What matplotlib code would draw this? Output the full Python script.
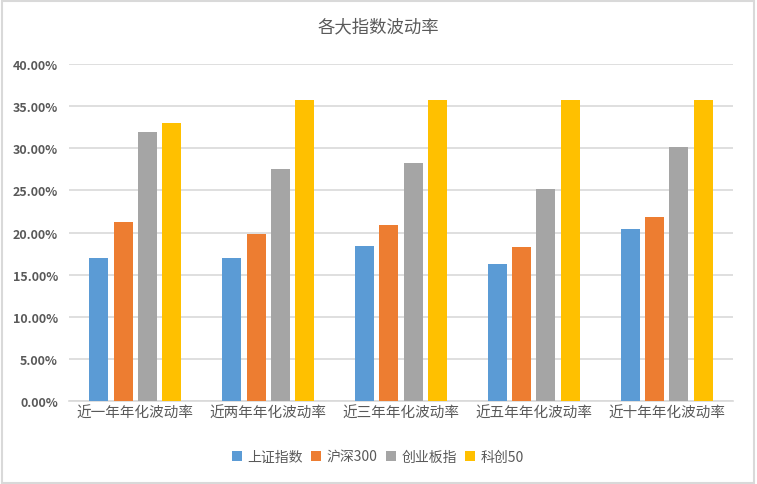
import numpy as np
import matplotlib.pyplot as plt
from matplotlib.ticker import FuncFormatter
from matplotlib.patches import Rectangle

plt.rcParams['font.family'] = ['Noto Sans CJK SC', 'DejaVu Sans']

categories = ['近一年年化波动率', '近两年年化波动率', '近三年年化波动率', '近五年年化波动率', '近十年年化波动率']
series_names = ['上证指数', '沪深300', '创业板指', '科创50']
sh_index = [17.0, 17.0, 18.4, 16.3, 20.4]
hs300 = [21.2, 19.8, 20.9, 18.3, 21.8]
cyb = [31.9, 27.5, 28.2, 25.2, 30.1]
kc50 = [33.0, 35.7, 35.7, 35.7, 35.7]
colors = ['#5B9BD5', '#ED7D31', '#A5A5A5', '#FFC000']

fig = plt.figure(figsize=(7.57, 4.85), dpi=100)
ax = fig.add_axes([69 / 757, 1 - 402.3 / 485, 664 / 757, 337.6 / 485])

x = np.arange(len(categories))
width = 0.143
step = 0.183
for i, (vals, name) in enumerate(zip([sh_index, hs300, cyb, kc50], series_names)):
    ax.bar(x + (i - 1.5) * step, vals, width, color=colors[i], label=name, zorder=3)

ax.set_xlim(-0.5, len(categories) - 0.5)
ax.set_ylim(0, 40)
ax.set_yticks(np.arange(0, 41, 5))
ax.yaxis.set_major_formatter(FuncFormatter(lambda v, p: f'{v:.2f}%'))
ax.set_xticks(x)
ax.set_xticklabels(categories, fontsize=10.5, color='#595959')
ax.grid(axis='y', color='#D9D9D9', linewidth=1.2, zorder=0)
for s in ['top', 'right', 'left']:
    ax.spines[s].set_visible(False)
ax.spines['bottom'].set_color('#D9D9D9')
ax.spines['bottom'].set_linewidth(1.2)
ax.tick_params(axis='both', length=0)
ax.tick_params(axis='y', pad=8)
for lab in ax.get_yticklabels():
    lab.set_fontsize(9)
    lab.set_color('#595959')
    lab.set_fontweight('bold')

fig.text(0.5, 1 - 27 / 485, '各大指数波动率', ha='center', va='center', fontsize=12.5, color='#595959')

fig.legend(loc='center', bbox_to_anchor=(378 / 757, 1 - 458 / 485), ncol=4, frameon=False,
           fontsize=10, handlelength=0.7, handleheight=0.7, handletextpad=0.4, columnspacing=0.6,
           labelcolor='#595959')

fig.patches.append(Rectangle((0.002, 0.002), 0.994, 0.994, transform=fig.transFigure,
                             fill=False, edgecolor='#D9D9D9', linewidth=1.5))

fig.savefig('out.png', dpi=100)
